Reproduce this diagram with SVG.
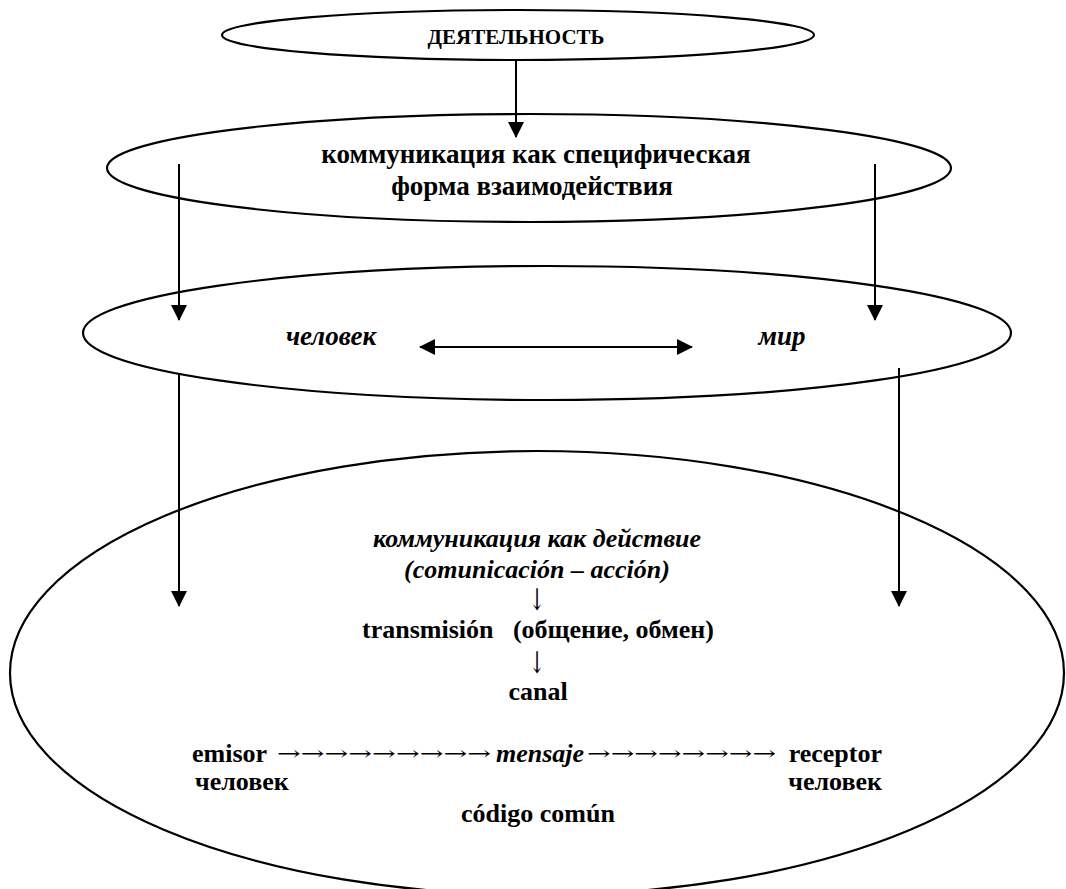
<svg xmlns="http://www.w3.org/2000/svg" width="1066" height="889" viewBox="0 0 1066 889">
<defs>
<style>
.el{fill:none;stroke:#000;stroke-width:2.2}
.ln{stroke:#000;stroke-width:2;fill:none}
.t{font-family:"Liberation Serif","Times New Roman",serif;font-weight:bold;fill:#000;text-anchor:middle}
.i{font-style:italic}
.st{text-anchor:start}
.en{text-anchor:end}
.g{font-family:"DejaVu Serif","DejaVu Sans",serif;font-weight:normal;fill:#000}
</style>
<marker id="ah" viewBox="0 0 16 16" refX="15" refY="8" markerWidth="16" markerHeight="16" markerUnits="userSpaceOnUse" orient="auto-start-reverse">
<path d="M0,0 L16,8 L0,16 Z" fill="#000"/>
</marker>
</defs>
<rect width="1066" height="889" fill="#fff"/>
<g id="node-activity">
<ellipse class="el" cx="518" cy="35" rx="296" ry="25"/>
<text class="t" x="516" y="44" font-size="21">ДЕЯТЕЛЬНОСТЬ</text>
</g>
<g id="node-communication-form">
<ellipse class="el" cx="529" cy="168" rx="422" ry="54"/>
<text class="t" x="536" y="163" font-size="27">коммуникация как специфическая</text>
<text class="t" x="532" y="195" font-size="27">форма взаимодействия</text>
</g>
<g id="node-man-world">
<ellipse class="el" cx="547" cy="333" rx="464" ry="67"/>
<text class="t i" x="331" y="345" font-size="27">человек</text>
<text class="t i" x="782" y="345" font-size="27">мир</text>
</g>
<g id="node-action">
<ellipse class="el" cx="537" cy="673" rx="527" ry="222"/>
<text class="t i" x="537" y="547" font-size="26">коммуникация как действие</text>
<text class="t i" x="537" y="578" font-size="26">(comunicación – acción)</text>
<text class="g" transform="translate(537,610) scale(0.65,1)" font-size="30" text-anchor="middle">↓</text>
<text class="t" x="538" y="638" font-size="26" xml:space="preserve">transmisión   (общение, обмен)</text>
<text class="g" transform="translate(537,673) scale(0.65,1)" font-size="30" text-anchor="middle">↓</text>
<text class="t" x="538" y="700" font-size="26">canal</text>
<text class="t st" x="192" y="762" font-size="26">emisor</text>
<text class="g" x="277" y="760" font-size="20" textLength="214" lengthAdjust="spacingAndGlyphs">→→→→→→→→→</text>
<text class="t i st" x="496" y="762" font-size="26">mensaje</text>
<text class="g" x="587" y="760" font-size="20" textLength="189" lengthAdjust="spacingAndGlyphs">→→→→→→→→</text>
<text class="t en" x="882" y="762" font-size="26">receptor</text>
<text class="t st" x="195" y="790" font-size="26">человек</text>
<text class="t en" x="882" y="790" font-size="26">человек</text>
<text class="t" x="538" y="822" font-size="26">código común</text>
</g>
<g id="connectors">
<line class="ln" x1="516" y1="60" x2="516" y2="137" marker-end="url(#ah)"/>
<line class="ln" x1="179" y1="164" x2="179" y2="320" marker-end="url(#ah)"/>
<line class="ln" x1="875" y1="164" x2="875" y2="320" marker-end="url(#ah)"/>
<line class="ln" x1="420" y1="347" x2="692" y2="347" stroke-width="2.5" marker-start="url(#ah)" marker-end="url(#ah)"/>
<line class="ln" x1="179" y1="373" x2="179" y2="606" marker-end="url(#ah)"/>
<line class="ln" x1="899" y1="368" x2="899" y2="606" marker-end="url(#ah)"/>
</g>
</svg>
